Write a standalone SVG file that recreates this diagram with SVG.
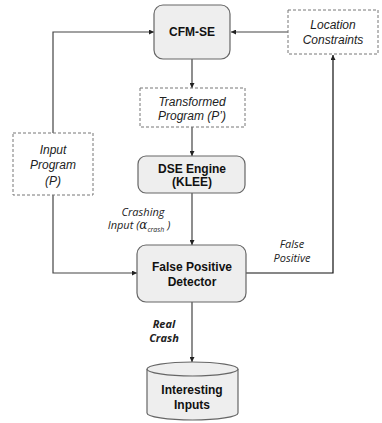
<svg xmlns="http://www.w3.org/2000/svg" width="382" height="423" viewBox="0 0 382 423">
<defs>
<style>
.box{fill:#eeeeee;stroke:#666;stroke-width:1.2}
.dash{fill:#fff;stroke:#777;stroke-width:1;stroke-dasharray:3,2}
.bt{font-family:"Liberation Sans",Arial,sans-serif;font-size:12px;font-weight:bold;fill:#111;text-anchor:middle}
.it{font-family:"Liberation Sans",Arial,sans-serif;font-size:12px;font-style:italic;fill:#222;text-anchor:middle}
.lb{font-family:"Open Sans","Noto Sans",sans-serif;font-size:11px;font-style:italic;fill:#222;text-anchor:middle}
.c{fill:none;stroke:#444;stroke-width:1.2}
.k{fill:none;stroke:#111;stroke-width:1.2}
</style>
<marker id="ah" viewBox="0 0 6 6" refX="6" refY="3" markerWidth="5" markerHeight="5" orient="auto" markerUnits="userSpaceOnUse">
<path d="M0,0 L6,3 L0,6 z" fill="#222"/>
</marker>
</defs>
<rect width="382" height="423" fill="#fff"/>
<g id="connectors">
<path class="c" d="M53,133 V32 H154" marker-end="url(#ah)"/>
<path class="c" d="M288,32 H231" marker-end="url(#ah)"/>
<path class="c" d="M192,59 V88" marker-end="url(#ah)"/>
<path class="c" d="M192,127 V156" marker-end="url(#ah)"/>
<path class="c" d="M192,193 V245" marker-end="url(#ah)"/>
<path class="c" d="M53,195 V273 H137" marker-end="url(#ah)"/>
<path class="k" d="M246,273 H333 V55" marker-end="url(#ah)"/>
<path class="c" d="M192,302 V362" marker-end="url(#ah)"/>
<text class="lb"><tspan x="143" y="216">Crashing</tspan><tspan x="139" y="229">Input (<tspan font-family="'DejaVu Serif',serif" font-size="12">α</tspan></tspan><tspan font-size="7" dy="3">crash</tspan><tspan dy="-3"> )</tspan></text>
<text class="lb"><tspan x="292" y="248">False</tspan><tspan x="292" y="262">Positive</tspan></text>
<text class="lb" font-weight="bold"><tspan x="164" y="328">Real</tspan><tspan x="164" y="342">Crash</tspan></text>
</g>
<g id="cfmse">
<rect class="box" x="154" y="5" width="76" height="54" rx="9"/>
<text class="bt" x="192" y="36">CFM-SE</text>
</g>
<g id="location">
<rect class="dash" x="288" y="10" width="90" height="44"/>
<text class="it"><tspan x="333" y="29">Location</tspan><tspan x="333" y="44">Constraints</tspan></text>
</g>
<g id="transformed">
<rect class="dash" x="140" y="88" width="105" height="39"/>
<text class="it"><tspan x="192" y="106">Transformed</tspan><tspan x="192" y="120">Program (P’)</tspan></text>
</g>
<g id="dse">
<rect class="box" x="138" y="156" width="107" height="37" rx="8"/>
<text class="bt"><tspan x="192" y="173">DSE Engine</tspan><tspan x="192" y="186">(KLEE)</tspan></text>
</g>
<g id="input">
<rect class="dash" x="13" y="133" width="80" height="62"/>
<text class="it"><tspan x="53" y="154">Input</tspan><tspan x="53" y="169">Program</tspan><tspan x="53" y="185">(P)</tspan></text>
</g>
<g id="fpd">
<rect class="box" x="137" y="245" width="109" height="57" rx="9"/>
<text class="bt"><tspan x="192" y="271">False Positive</tspan><tspan x="192" y="286">Detector</tspan></text>
</g>
<g id="interesting">
<path class="box" d="M147,369 A45.5,7 0 0 1 238,369 V413 A45.5,7 0 0 1 147,413 Z"/>
<path class="box" d="M147,369 A45.5,7 0 0 0 238,369" fill="none"/>
<text class="bt"><tspan x="192" y="394">Interesting</tspan><tspan x="192" y="409">Inputs</tspan></text>
</g>
</svg>
